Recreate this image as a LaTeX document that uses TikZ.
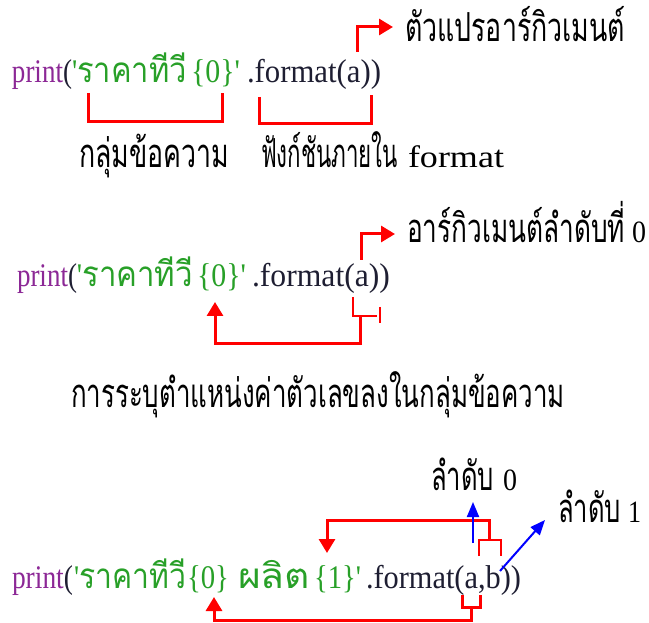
\documentclass[tikz,border=0pt]{standalone}
\usepackage{fontspec}
\usepackage{graphicx}
\setmainfont{Liberation Serif}
\newfontfamily\codefont[Ligatures=TeXOff]{Liberation Serif}
\newfontfamily\thaifont[Script=Thai]{Loma}
\usetikzlibrary{arrows.meta}
\definecolor{pur}{RGB}{140,40,150}
\definecolor{grn}{RGB}{40,160,40}
\definecolor{dk}{RGB}{30,30,50}
\definecolor{rd}{RGB}{255,0,0}
\definecolor{bl}{RGB}{0,0,255}
\newcommand\codelat{\codefont\fontsize{33}{36}\selectfont}
\newcommand\codethai{\thaifont\fontsize{35}{40}\selectfont}
\newcommand\lbllat{\fontsize{31}{34}\selectfont}
\newcommand\lblthai{\thaifont\fontsize{40}{44}\selectfont}
\newcommand\fitw[2]{\resizebox{#1pt}{\height}{#2}}
\tikzset{
  txt/.style={anchor=base west, inner sep=0pt, outer sep=0pt},
  redthick/.style={draw=rd, line width=3pt},
  redthin/.style={draw=rd, line width=2pt},
  redarrow/.style={draw=rd, line width=3pt, -{Triangle[width=16pt,length=14pt]}},
  bluearrow/.style={draw=bl, line width=2pt, -{Triangle[width=12pt,length=15pt]}}
}
\begin{document}
\begin{tikzpicture}[x=1pt,y=-1pt]
\useasboundingbox (0,0) rectangle (649,623);
% ---------- block 1 ----------
\node[txt] (c1a) at (12,83) {\fitw{60}{\codelat\textcolor{pur}{print}\textcolor{dk}{(}}};
\node[txt,text=grn] (c1b) at (72,83) {\fitw{115}{\codelat'\codethai ราคาทีวี}};
\node[txt,text=grn] (c1c) at (191,83) {\fitw{49}{\codelat\{0\}'}};
\node[txt,text=dk] (c1d) at (247,83) {\fitw{134}{\codelat.format(a))}};
\coordinate (b1a) at (88,93);
\coordinate (b1b) at (222,93);
\coordinate (b2a) at (259,97);
\coordinate (b2b) at (371,95);
\draw[redthick] (b1a) |- (155,122) -| (b1b);
\draw[redthick] (b2a) |- (315,124) -| (b2b);
\node[txt] (l1) at (405,42) {\fitw{220}{\lblthai ตัวแปรอาร์กิวเมนต์}};
\coordinate (a1s) at (357,52);
\coordinate (a1e) at (393,27);
\draw[redarrow] (a1s) |- (a1e);
\node[txt] (cap1a) at (79,168) {\fitw{150}{\lblthai กลุ่มข้อความ}};
\node[txt] (cap1b) at (261,168) {\fitw{137}{\lblthai ฟังก์ชันภายใน}};
\node[txt] (cap1c) at (408,168) {\fitw{96}{\lbllat format}};
% ---------- block 2 ----------
\node[txt] (c2a) at (17,287) {\fitw{60}{\codelat\textcolor{pur}{print}\textcolor{dk}{(}}};
\node[txt,text=grn] (c2b) at (77,287) {\fitw{116}{\codelat'\codethai ราคาทีวี}};
\node[txt,text=grn] (c2c) at (197,287) {\fitw{49}{\codelat\{0\}'}};
\node[txt,text=dk] (c2d) at (252,287) {\fitw{138}{\codelat.format(a))}};
\node[txt] (l2a) at (407,243) {\fitw{218}{\lblthai อาร์กิวเมนต์ลำดับที่}};
\node[txt] (l2b) at (632,243) {\fitw{14}{\lbllat 0}};
\coordinate (a2s) at (361,260);
\coordinate (a2e) at (395,234);
\draw[redarrow] (a2s) |- (a2e);
\coordinate (p2a) at (353,297);
\coordinate (p2j) at (360,316);
\coordinate (p2t) at (377,316);
\coordinate (tk1) at (380,307);
\coordinate (tk2) at (380,323);
\coordinate (p2e) at (215,302);
\draw[redthin] (p2a) |- (p2t);
\draw[redthin] (tk1) -- (tk2);
\draw[redarrow] (p2j) -- (360,344) -| (p2e);
\node[txt] (cap2) at (71,407) {\fitw{494}{\lblthai การระบุตำแหน่งค่าตัวเลขลงในกลุ่มข้อความ}};
% ---------- block 3 ----------
\node[txt] (c3a) at (12,588) {\fitw{61}{\codelat\textcolor{pur}{print}\textcolor{dk}{(}}};
\node[txt,text=grn] (c3b) at (74,588) {\fitw{112}{\codelat'\codethai ราคาทีวี}};
\node[txt,text=grn] (c3c) at (187,588) {\fitw{42}{\codelat\{0\}}};
\node[txt,text=grn] (c3d) at (238,588) {\fitw{72}{\codethai ผลิต}};
\node[txt,text=grn] (c3e) at (314,588) {\fitw{47}{\codelat\{1\}'}};
\node[txt,text=dk] (c3f) at (366,588) {\fitw{155}{\codelat.format(a,b))}};
\node[txt] (l3a) at (431,490) {\fitw{63}{\lblthai ลำดับ}};
\node[txt] (l3b) at (503,490) {\fitw{14}{\lbllat 0}};
\node[txt] (l4a) at (558,522) {\fitw{63}{\lblthai ลำดับ}};
\node[txt] (l4b) at (628,522) {\fitw{13}{\lbllat 1}};
% upper bracket over b
\coordinate (ub1) at (479,556);
\coordinate (ub2) at (501,556);
\draw[redthin] (ub1) |- (490,540) -| (ub2);
\coordinate (ut) at (327,553);
\draw[redarrow] (489,540) -- (489,520) -| (ut);
% blue arrows
\coordinate (bs1) at (473,543);
\coordinate (be1) at (473,502);
\draw[bluearrow] (bs1) -- (be1);
\coordinate (bs2) at (500,571);
\coordinate (be2) at (545,520);
\draw[bluearrow] (bs2) -- (be2);
% lower bracket under a,
\coordinate (lb1) at (462,595);
\coordinate (lb2) at (480,595);
\draw[redthick] (lb1) |- (471,607) -| (lb2);
\coordinate (lt) at (214,597);
\draw[redarrow] (471,607) -- (471,620) -| (lt);
\end{tikzpicture}
\end{document}
